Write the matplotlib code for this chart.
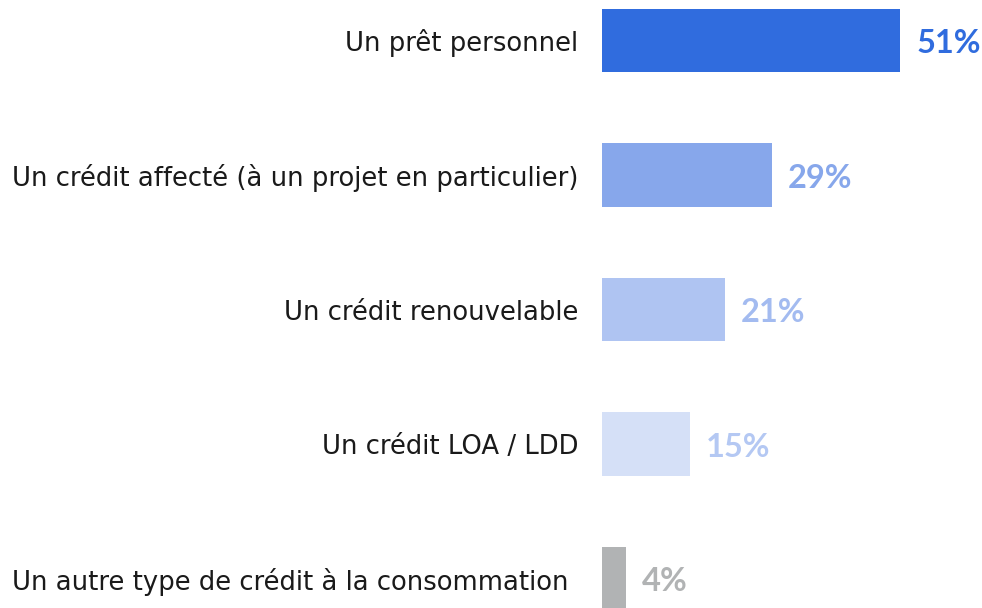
import matplotlib
matplotlib.use('Agg')
import matplotlib.pyplot as plt

# data
categories = ['Un prêt personnel',
              'Un crédit affecté (à un projet en particulier)',
              'Un crédit renouvelable',
              'Un crédit LOA / LDD',
              'Un autre type de crédit à la consommation']
values = [51, 29, 21, 15, 4]
bar_colors = ['#306CDE', '#87A7EB', '#AFC4F2', '#D5E0F7', '#B1B3B4']
label_colors = ['#306CDE', '#87A7EB', '#A3BBF0', '#B4C8F3', '#B1B3B4']

plt.rcParams['font.family'] = ['DejaVu Sans']

fig = plt.figure(figsize=(9.82, 6.08), dpi=100)
ax = fig.add_axes([0.6135, 0, 0.3865, 1])

pos = list(range(len(categories)))
ax.barh(pos, values, height=0.47, color=bar_colors)

for i, v in enumerate(values):
    ax.annotate(f'{v}%', (v, i), xytext=(16, -3), textcoords='offset pixels',
                ha='left', va='center', fontsize=23.5, fontweight='bold',
                family=['Lato', 'DejaVu Sans'], color=label_colors[i])

# category names left of the bars (last one sits a bit further left)
for i, name in enumerate(categories):
    dx = -24 if i < len(categories) - 1 else -34
    ax.annotate(name, (0, i), xytext=(dx, -3), textcoords='offset pixels',
                ha='right', va='center', fontsize=18.6, color='#1a1a1a',
                annotation_clip=False)

ax.set_xticks([])
ax.set_yticks([])
ax.set_xlim(0, 65)
ax.set_ylim(4.219, -0.301)
for s in ax.spines.values():
    s.set_visible(False)

fig.savefig('out.png', dpi=100)
